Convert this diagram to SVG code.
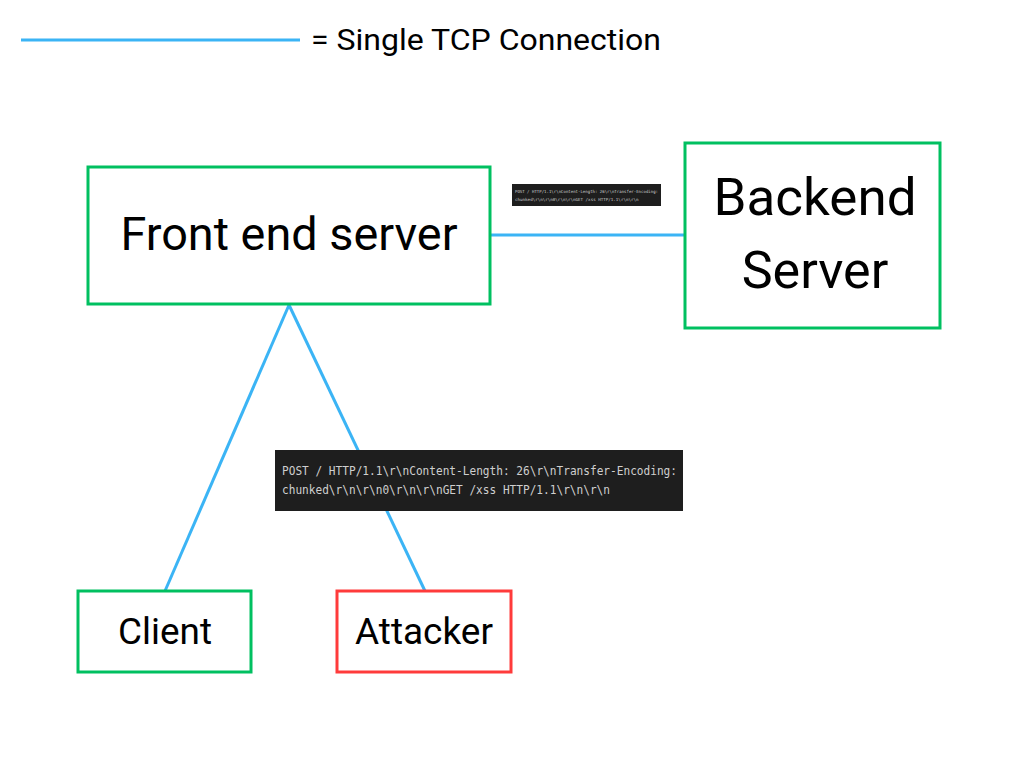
<svg xmlns="http://www.w3.org/2000/svg" width="1024" height="768" viewBox="0 0 1024 768">
<style>
.node{fill:#fff;stroke-width:3}
.g{stroke:#00c060}
.r{stroke:#ff3b3b}
.lbl{font-family:Roboto,"Liberation Sans",sans-serif;fill:#000;text-anchor:middle}
.conn{stroke:#3bb4f5;stroke-width:3;fill:none}
.code{font-family:"DejaVu Sans Mono","Liberation Mono",monospace;fill:#cfcfcf}
</style>
<rect width="1024" height="768" fill="#fff"/>
<g id="legend">
<line class="conn" x1="21" y1="40" x2="300" y2="40"/>
<text x="311" y="50" font-family="Roboto,'Liberation Sans',sans-serif" font-size="30" fill="#000" textLength="350" lengthAdjust="spacingAndGlyphs">= Single TCP Connection</text>
</g>
<g id="connectors">
<line class="conn" x1="490" y1="235" x2="685" y2="235"/>
<line class="conn" x1="289" y1="305" x2="165" y2="591"/>
<line class="conn" x1="289" y1="305" x2="425" y2="591"/>
</g>
<g id="frontend">
<rect class="node g" x="88" y="167" width="402" height="137"/>
<text class="lbl" x="289" y="250" font-size="46" textLength="337" lengthAdjust="spacingAndGlyphs">Front end server</text>
</g>
<g id="backend">
<rect class="node g" x="685" y="143" width="255" height="185"/>
<text class="lbl" x="815" y="215" font-size="52" textLength="203" lengthAdjust="spacingAndGlyphs">Backend</text>
<text class="lbl" x="815" y="288" font-size="52">Server</text>
</g>
<g id="client">
<rect class="node g" x="78" y="591" width="173" height="81"/>
<text class="lbl" x="165" y="644" font-size="37" textLength="94" lengthAdjust="spacingAndGlyphs">Client</text>
</g>
<g id="attacker">
<rect class="node r" x="337" y="591" width="174" height="81"/>
<text class="lbl" x="424" y="644" font-size="37" textLength="138" lengthAdjust="spacingAndGlyphs">Attacker</text>
</g>
<g id="payload-small">
<rect x="512" y="184" width="149" height="22" fill="#1e1e1e"/>
<text class="code" x="515" y="193" font-size="4.2" textLength="143" lengthAdjust="spacingAndGlyphs">POST / HTTP/1.1\r\nContent-Length: 26\r\nTransfer-Encoding:</text>
<text class="code" x="515" y="201" font-size="4.2">chunked\r\n\r\n0\r\n\r\nGET /xss HTTP/1.1\r\n\r\n</text>
</g>
<g id="payload">
<rect x="275" y="450" width="408" height="61" fill="#1e1e1e"/>
<text class="code" x="282" y="475" font-size="11.5" textLength="395" lengthAdjust="spacingAndGlyphs">POST / HTTP/1.1\r\nContent-Length: 26\r\nTransfer-Encoding:</text>
<text class="code" x="282" y="494" font-size="11.5" textLength="328" lengthAdjust="spacingAndGlyphs">chunked\r\n\r\n0\r\n\r\nGET /xss HTTP/1.1\r\n\r\n</text>
</g>
</svg>
